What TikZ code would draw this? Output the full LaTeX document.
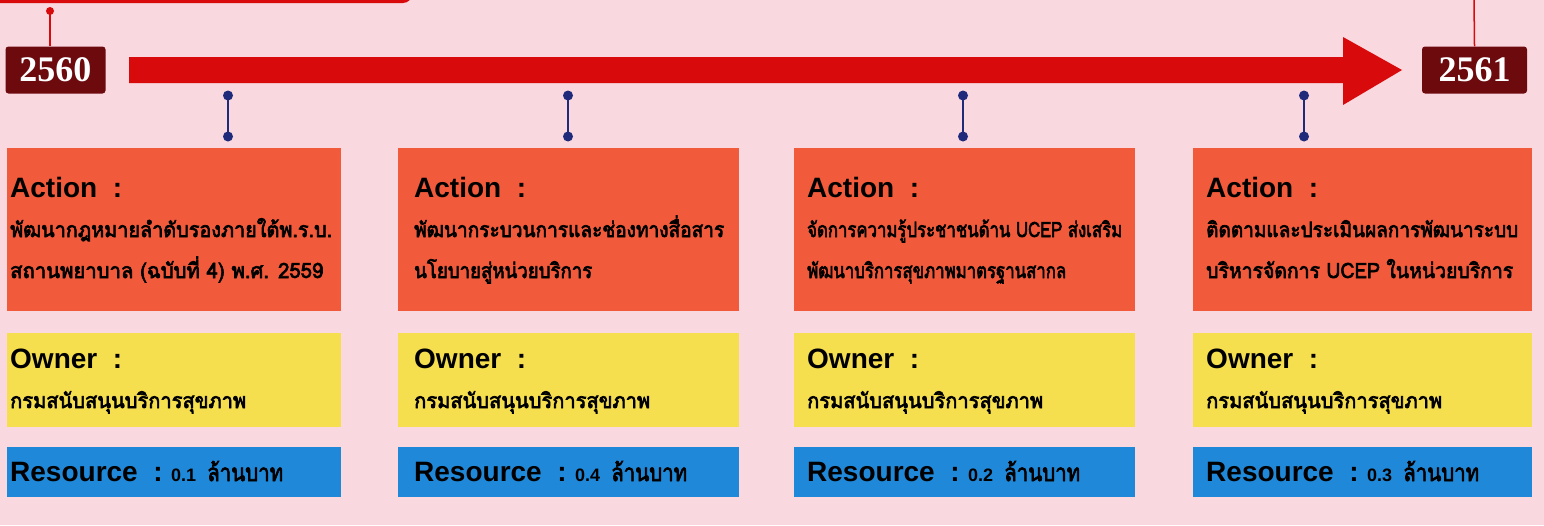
\documentclass[tikz,border=0pt]{standalone}
\usepackage{fontspec}
\usepackage{graphicx}
\setmainfont{Liberation Sans}
\newfontfamily\thai[Script=Thai,FakeBold=3.2]{Loma}
\newfontfamily\yearfont{Liberation Serif}
\newcommand\numfont{\bfseries\fontsize{18}{18}\selectfont}
\newcommand\fitw[2]{\resizebox{#1pt}{\height}{#2}}
\definecolor{bg}{HTML}{F9D8DF}
\definecolor{redc}{HTML}{D90A0C}
\definecolor{maroon}{HTML}{6C0A0E}
\definecolor{actc}{HTML}{F15A3A}
\definecolor{ownc}{HTML}{F5DF4E}
\definecolor{resc}{HTML}{2088D8}
\definecolor{pinc}{HTML}{1F2A7A}
\tikzset{
  yearbox/.style={fill=maroon, rounded corners=3pt, text=white, font=\yearfont\bfseries\fontsize{36}{36}\selectfont, minimum width=100pt, minimum height=47pt, inner sep=0pt},
  actbox/.style={fill=actc, anchor=north west, inner sep=0pt},
  ownbox/.style={fill=ownc, anchor=north west, inner sep=0pt},
  resbox/.style={fill=resc, anchor=north west, inner sep=0pt},
  headtxt/.style={anchor=base west, inner sep=0pt, font=\bfseries\fontsize{28}{28}\selectfont},
  thaitxt/.style={anchor=base west, inner sep=0pt, font=\thai\fontsize{21}{21}\selectfont},
  unittxt/.style={anchor=base west, inner sep=0pt, font=\thai\fontsize{24}{24}\selectfont},
  numtxt/.style={anchor=base west, inner sep=0pt, font=\numfont},
  pinline/.style={draw=pinc, line width=1.6pt},
  pindot/.style={fill=pinc}
}
\begin{document}
\begin{tikzpicture}[x=1pt,y=-1pt]
\useasboundingbox (0,0) rectangle (1544,525);
\clip (0,0) rectangle (1544,525);
\fill[bg] (0,0) rectangle (1544,525);
% top red banner (cut off)
\fill[redc, rounded corners=9pt] (-20,-40) rectangle (412,3);
% years
\node[yearbox] (y0) at (55.5,70) {2560};
\node[yearbox, minimum width=105pt] (y1) at (1474.5,70) {2561};
% red pins
\coordinate (rt0) at (50,11);
\draw[redc, line width=1.5pt] (rt0) -- (y0.north -| rt0);
\fill[redc] (rt0) circle (4pt);
\coordinate (rt1) at (1474,0);
\draw[redc, line width=1.5pt] (rt1) -- (y1.north);
% main arrow
\fill[redc] (129,57) -- (1343,57) -- (1343,37) -- (1402,70) -- (1343,105) -- (1343,83) -- (129,83) -- cycle;
% columns
\foreach \l/\w/\tx/\px/\a/\wa/\b/\wb/\r/\i in {
  7/334/10/228/{พัฒนากฎหมายลำดับรองภายใต้พ.ร.บ.}/322/{สถานพยาบาล (ฉบับที่ 4) พ.ศ. 2559}/313/0.1/1,
  398/341/414/568/{พัฒนากระบวนการและช่องทางสื่อสาร}/310/{นโยบายสู่หน่วยบริการ}/178/0.4/2,
  794/341/807/963/{จัดการความรู้ประชาชนด้าน UCEP ส่งเสริม}/315/{พัฒนาบริการสุขภาพมาตรฐานสากล}/259/0.2/3,
  1193/339/1206/1304/{ติดตามและประเมินผลการพัฒนาระบบ}/312/{บริหารจัดการ UCEP ในหน่วยบริการ}/307/0.3/4}{
  % pin
  \coordinate (pt\i) at (\px,95.5);
  \coordinate (pb\i) at (\px,136.5);
  \draw[pinline] (pt\i) -- (pb\i);
  \fill[pindot] (pt\i) circle (5pt);
  \fill[pindot] (pb\i) circle (5pt);
  % boxes
  \node[actbox, minimum width=\w pt, minimum height=163pt] (act\i) at (\l,148) {};
  \node[ownbox, minimum width=\w pt, minimum height=94pt] (own\i) at (\l,333) {};
  \node[resbox, minimum width=\w pt, minimum height=50pt] (res\i) at (\l,447) {};
  % texts
  \node[headtxt] (acth\i) at (\tx,197) {Action\ \ :};
  \node[thaitxt] (acta\i) at (\tx,237) {\fitw{\wa}{\a}};
  \node[thaitxt] (actb\i) at (\tx,278) {\fitw{\wb}{\b}};
  \node[headtxt] (ownh\i) at (\tx,368) {Owner\ \ :};
  \node[thaitxt] (owna\i) at (\tx,408) {\fitw{236}{กรมสนับสนุนบริการสุขภาพ}};
  \node[headtxt] (resh\i) at (\tx,481) {Resource\ \ :};
  \node[numtxt] (resn\i) at (\tx+161,481) {\r};
  \node[unittxt] (resu\i) at (\tx+197,481) {\fitw{76}{ล้านบาท}};
}
\end{tikzpicture}
\end{document}
